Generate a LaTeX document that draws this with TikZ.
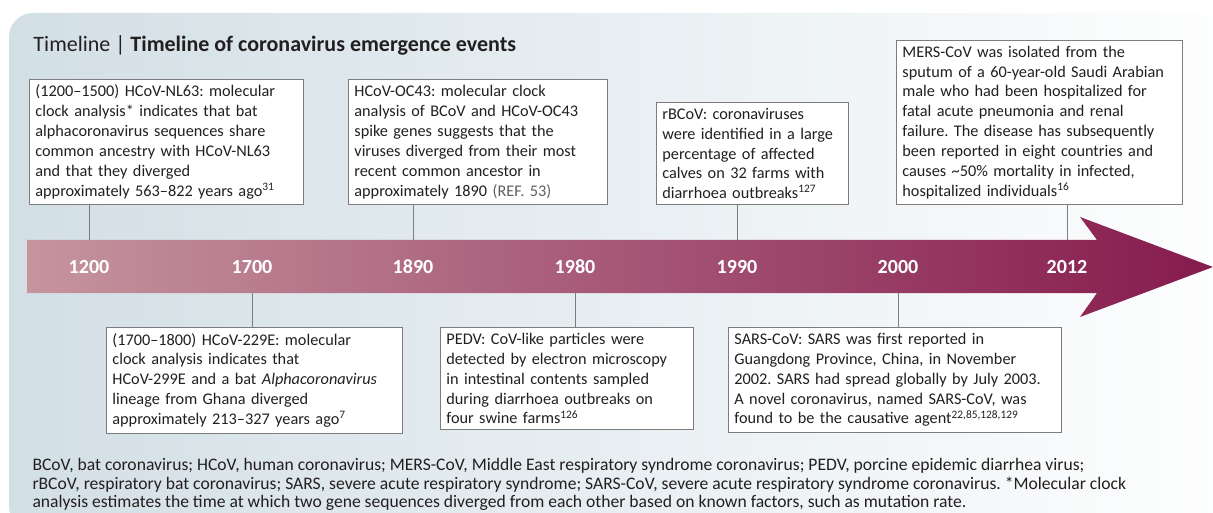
\documentclass[tikz,border=0pt]{standalone}
\usepackage{fontspec}
\setmainfont{Carlito}
\frenchspacing

\definecolor{panelblue}{RGB}{210,223,229}
\definecolor{barleft}{RGB}{197,148,158}
\definecolor{barright}{RGB}{134,27,78}
\definecolor{boxline}{RGB}{125,125,125}
\definecolor{ink}{RGB}{35,31,32}
\definecolor{refgray}{RGB}{95,95,95}

\newcommand{\bodyfont}{\fontsize{12.2pt}{14.9pt}\selectfont\hyphenpenalty=10000 }

\tikzset{every picture/.style={line width=0.75pt}}
\tikzset{
  eventbox/.style={draw=boxline, fill=white, line width=0.6pt, align=left,
    inner xsep=4.5pt, inner ysep=4.3pt, font=\bodyfont, text=ink},
  year/.style={text=white, font=\fontsize{15pt}{16pt}\selectfont\bfseries},
  stem/.style={draw=boxline, line width=0.6pt},
}

\begin{document}
\begin{tikzpicture}[x=0.75pt,y=0.75pt,yscale=-1,xscale=1]
\useasboundingbox (0,0) rectangle (1213,513);

%Shape: Panel
\shade[left color=panelblue, right color=white, rounded corners=18pt] (9,13) rectangle (1260,530);

% Text Node
\node[anchor=base west, inner sep=0, text=ink, font=\fontsize{16.5pt}{18pt}\selectfont] (title) at (33,52)
  {Timeline | \textbf{Timeline of coronavirus emergence events}};

%Shape: Arrow
\shade[left color=barleft, right color=barright] (27,240) -- (1097,240) -- (1080,217) -- (1213,267) -- (1080,317) -- (1097,293) -- (27,293) -- cycle;
\coordinate (bartop) at (27,240);
\coordinate (barbot) at (27,293);

% Text Node
\node[year] (y1200) at (89,267) {1200};
\node[year] (y1700) at (252,267) {1700};
\node[year] (y1890) at (413,267) {1890};
\node[year] (y1980) at (575,267) {1980};
\node[year] (y1990) at (737,267) {1990};
\node[year] (y2000) at (898,267) {2000};
\node[year] (y2012) at (1067,267) {2012};

%Shape: Rectangle
\node[eventbox, text width=196.5pt, anchor=south west] (nl63) at (29,205)
  {(1200--1500) HCoV-NL63: molecular\\
   clock analysis* indicates that bat\\
   alphacoronavirus sequences share\\
   common ancestry with HCoV-NL63\\
   and that they diverged\\
   approximately 563--822 years ago\textsuperscript{31}};
%Shape: Rectangle
\node[eventbox, text width=185.25pt, anchor=south west] (oc43) at (348,205)
  {HCoV-OC43: molecular clock\\
   analysis of BCoV and HCoV-OC43\\
   spike genes suggests that the\\
   viruses diverged from their most\\
   recent common ancestor in\\
   approximately 1890 {\color{refgray}(REF. 53)}};
%Shape: Rectangle
\node[eventbox, text width=135pt, anchor=south west] (rbcov) at (656,205)
  {rBCoV: coronaviruses\\
   were identified in a large\\
   percentage of affected\\
   calves on 32 farms with\\
   diarrhoea outbreaks\textsuperscript{127}};
%Shape: Rectangle
\node[eventbox, text width=205.5pt, anchor=south west] (mers) at (896,205)
  {MERS-CoV was isolated from the\\
   sputum of a 60-year-old Saudi Arabian\\
   male who had been hospitalized for\\
   fatal acute pneumonia and renal\\
   failure. The disease has subsequently\\
   been reported in eight countries and\\
   causes \textasciitilde 50\% mortality in infected,\\
   hospitalized individuals\textsuperscript{16}};

%Shape: Rectangle
\node[eventbox, text width=213pt, anchor=north west] (hcov229) at (106,327)
  {(1700--1800) HCoV-229E: molecular\\
   clock analysis indicates that\\
   HCoV-299E and a bat \textit{Alphacoronavirus}\\
   lineage from Ghana diverged\\
   approximately 213--327 years ago\textsuperscript{7}};
%Shape: Rectangle
\node[eventbox, text width=180.75pt, anchor=north west] (pedv) at (440,327)
  {PEDV: CoV-like particles were\\
   detected by electron microscopy\\
   in intestinal contents sampled\\
   during diarrhoea outbreaks on\\
   four swine farms\textsuperscript{126}};
%Shape: Rectangle
\node[eventbox, text width=240.75pt, anchor=north west] (sars) at (728,327)
  {SARS-CoV: SARS was first reported in\\
   Guangdong Province, China, in November\\
   2002. SARS had spread globally by July 2003.\\
   A novel coronavirus, named SARS-CoV, was\\
   found to be the causative agent\textsuperscript{22,85,128,129}};

%Straight Lines
\draw[stem] (y1200 |- nl63.south) -- (y1200 |- bartop);
\draw[stem] (y1890 |- oc43.south) -- (y1890 |- bartop);
\draw[stem] (y1990 |- rbcov.south) -- (y1990 |- bartop);
\draw[stem] (y2012 |- mers.south) -- (y2012 |- bartop);
\draw[stem] (y1700 |- barbot) -- (y1700 |- hcov229.north);
\draw[stem] (y1980 |- barbot) -- (y1980 |- pedv.north);
\draw[stem] (y2000 |- barbot) -- (y2000 |- sars.north);

% Text Node
\node[anchor=north west, inner sep=0, align=left, text=ink, font=\fontsize{13.2pt}{13.9pt}\selectfont] (abbrev) at (32,458)
  {BCoV, bat coronavirus; HCoV, human coronavirus; MERS-CoV, Middle East respiratory syndrome coronavirus; PEDV, porcine epidemic diarrhea virus;\\
   rBCoV, respiratory bat coronavirus; SARS, severe acute respiratory syndrome; SARS-CoV, severe acute respiratory syndrome coronavirus. *Molecular clock\\
   analysis estimates the time at which two gene sequences diverged from each other based on known factors, such as mutation rate.};

\end{tikzpicture}
\end{document}
